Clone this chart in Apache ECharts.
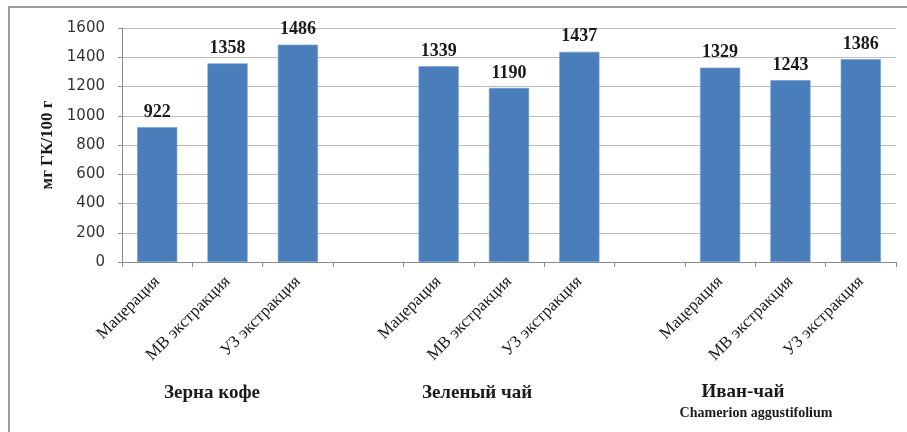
<!DOCTYPE html>
<html><head><meta charset="utf-8">
<script src="https://cdn.jsdelivr.net/npm/echarts@6/dist/echarts.min.js"></script>
<style>html,body{margin:0;padding:0;background:#fff}#c{width:907px;height:432px}</style>
</head><body><div id="c"></div>
<script>
const categories = ['Мацерация','МВ экстракция','УЗ экстракция','','Мацерация','МВ экстракция','УЗ экстракция','','Мацерация','МВ экстракция','УЗ экстракция'];
const values = [922,1358,1486,'-',1339,1190,1437,'-',1329,1243,1386];
const yTicks = {min:0,max:1600,interval:200};
const yName = 'мг ГК/100 г';
const groupLabels = ['Зерна кофе','Зеленый чай','Иван-чай','Chamerion aggustifolium'];

const chart = echarts.init(document.getElementById('c'));
const serif = '"Liberation Serif", "Times New Roman", serif';
chart.setOption({
  animation:false,
  backgroundColor:'#fff',
  grid:{left:122,right:11,top:28,bottom:170,containLabel:false},
  xAxis:{
    type:'category', data:categories,
    axisLine:{lineStyle:{color:'#8c8c8c',width:1}},
    axisTick:{show:true,length:5,lineStyle:{color:'#8c8c8c'}},
    axisLabel:{rotate:45,interval:0,margin:17,fontFamily:serif,fontSize:17,color:'#1a1a1a'}
  },
  yAxis:{
    type:'value', min:yTicks.min, max:yTicks.max, interval:yTicks.interval,
    name:yName, nameLocation:'middle', nameGap:64, nameRotate:90,
    nameTextStyle:{fontFamily:serif,fontWeight:'bold',fontSize:17,color:'#1a1a1a'},
    axisLine:{show:true,lineStyle:{color:'#8c8c8c'}},
    axisTick:{show:true,length:4,lineStyle:{color:'#8c8c8c'}},
    axisLabel:{margin:17,fontFamily:'"DejaVu Sans", sans-serif',fontSize:15,color:'#333',formatter:v=>String(v)},
    splitLine:{lineStyle:{color:'#bdbdbd',width:1}}
  },
  series:[{
    type:'bar', data:values, barCategoryGap:'43%',
    itemStyle:{color:'#4a7ebb',borderColor:'#6f9ad0',borderWidth:0.6},
    label:{show:true,position:'top',distance:6,fontFamily:serif,fontWeight:'bold',fontSize:18,color:'#1a1a1a'}
  }],
  graphic:[
    {type:'rect',shape:{x:9,y:7,width:920,height:460},style:{fill:'none',stroke:'#9a9a9a',lineWidth:2},silent:true},
    {type:'text',x:212,y:393,style:{text:groupLabels[0],font:'bold 19px '+serif,fill:'#1a1a1a',align:'center',verticalAlign:'middle'}},
    {type:'text',x:477,y:393,style:{text:groupLabels[1],font:'bold 19px '+serif,fill:'#1a1a1a',align:'center',verticalAlign:'middle'}},
    {type:'text',x:743,y:392,style:{text:groupLabels[2],font:'bold 19px '+serif,fill:'#1a1a1a',align:'center',verticalAlign:'middle'}},
    {type:'text',x:756,y:413,style:{text:groupLabels[3],font:'bold 14px '+serif,fill:'#1a1a1a',align:'center',verticalAlign:'middle'}}
  ]
});
</script></body></html>
